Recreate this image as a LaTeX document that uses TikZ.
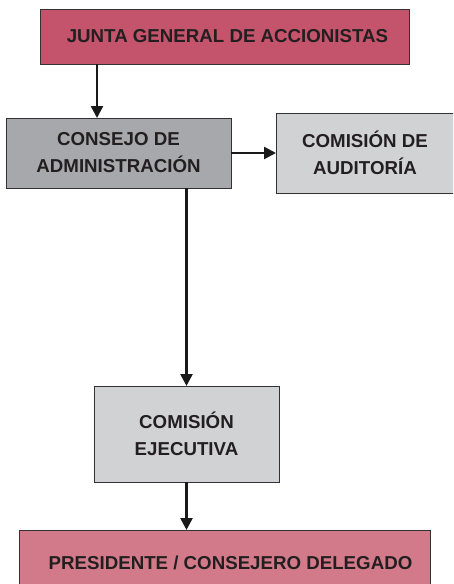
\documentclass[tikz,border=0pt]{standalone}
\usepackage{fontspec}
\newfontfamily\boxfont{Liberation Sans}
\usetikzlibrary{arrows.meta}
\definecolor{redbox}{RGB}{196,83,108}
\definecolor{pinkbox}{RGB}{210,122,137}
\definecolor{darkgraybox}{RGB}{167,168,171}
\definecolor{lightgraybox}{RGB}{209,210,212}
\definecolor{bordercol}{RGB}{50,50,52}
\definecolor{txtcol}{RGB}{35,31,32}
\tikzset{
  orgbox/.style={draw=bordercol, line width=0.8pt, inner sep=0pt, outer sep=0pt,
    align=center, text=txtcol, font=\boxfont\bfseries\fontsize{18.7}{27}\selectfont},
  arr/.style={line width=2.5pt, draw=black!90, -{Triangle[length=12pt,width=12pt]}}
}
\begin{document}
\begin{tikzpicture}[x=1pt,y=-1pt]
\useasboundingbox (0,0) rectangle (453,584);
\clip (0,0) rectangle (453,584);
\node[orgbox, fill=redbox, minimum width=369pt, minimum height=55pt] (junta) at (224.5,36.5) {\hspace*{6pt}JUNTA GENERAL DE ACCIONISTAS};
\node[orgbox, fill=darkgraybox, minimum width=225pt, minimum height=70pt] (consejo) at (118.5,153) {CONSEJO DE\\ADMINISTRACIÓN};
\node[orgbox, fill=lightgraybox, minimum width=178pt, minimum height=80pt] (audit) at (365,153) {COMISIÓN DE\\AUDITORÍA};
\node[orgbox, fill=lightgraybox, minimum width=185pt, minimum height=96pt] (ejec) at (186.5,434) {COMISIÓN\\EJECUTIVA};
\node[orgbox, fill=pinkbox, minimum width=411pt, minimum height=66pt] (pres) at (224.5,563) {\hspace*{12pt}PRESIDENTE / CONSEJERO DELEGADO};
\coordinate (c1) at (97,0);
\draw[arr] (junta.south -| c1) -- (consejo.north -| c1);
\draw[arr] (consejo.east) -- (audit.west);
\draw[arr] (consejo.south -| ejec.north) -- (ejec.north);
\draw[arr] (ejec.south) -- (ejec.south |- pres.north);
\end{tikzpicture}
\end{document}
